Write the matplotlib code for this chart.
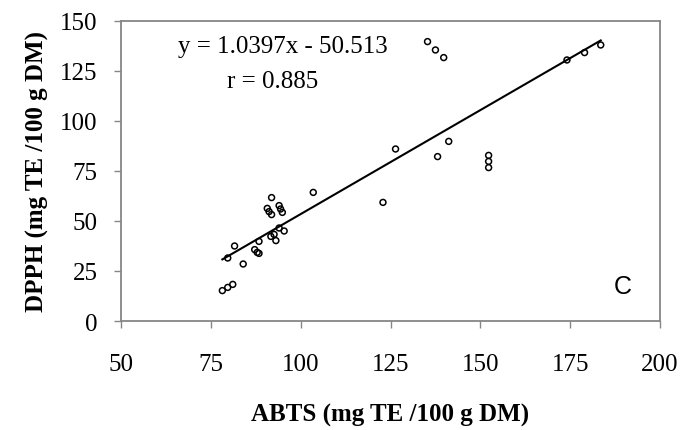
import matplotlib
matplotlib.use("Agg")
import matplotlib.pyplot as plt
import numpy as np

# ABTS vs DPPH, mg TE / 100 g DM
abts = [78.2, 79.7, 81.1, 79.7, 81.6, 84.0, 87.2, 87.9, 88.4, 88.4,
        91.9, 90.7, 91.2, 91.9, 94.0, 94.4, 94.9, 94.0, 95.4, 91.7,
        92.6, 93.1, 103.5, 122.9, 126.4, 138.1, 141.2, 152.3, 152.3, 152.3,
        135.3, 137.5, 139.8, 174.1, 179.0, 183.5]
dpph = [15.2, 16.8, 18.3, 31.5, 37.5, 28.5, 35.7, 34.3, 33.8, 39.8,
        61.7, 56.3, 54.7, 53.2, 57.7, 56.0, 54.3, 46.5, 45.0, 42.3,
        43.3, 40.2, 64.3, 59.3, 86.0, 82.2, 89.8, 82.8, 79.8, 76.7,
        139.7, 135.5, 131.7, 130.5, 134.2, 138.0]
slope, intercept = 1.0397, -50.513
xticks = [50, 75, 100, 125, 150, 175, 200]
yticks = [0, 25, 50, 75, 100, 125, 150]

plt.rcParams["font.family"] = ["Liberation Serif", "DejaVu Serif"]
grey = "#868686"

fig = plt.figure(figsize=(6.81, 4.31), dpi=100)
ax = fig.add_axes([0.1777, 0.2529, 0.7915, 0.6961])

ax.scatter(abts, dpph, s=18, facecolors="none", edgecolors="black", linewidths=1.1, zorder=3)
xl = np.array([min(abts), max(abts)])
ax.plot(xl, slope * xl + intercept, color="black", lw=1.5, zorder=2)

ax.set_xlim(50, 200)
ax.set_ylim(0, 150)
ax.set_xticks(xticks)
ax.set_yticks(yticks)
ax.tick_params(direction="out", length=5, width=1, color=grey, labelsize=18)
ax.tick_params(axis="x", pad=18)
ax.tick_params(axis="y", pad=12)
for sp in ax.spines.values():
    sp.set_color(grey)
    sp.set_linewidth(1.3)

ax.set_xlabel("ABTS (mg TE /100 g DM)", fontsize=18, fontweight="bold", labelpad=20)
ax.set_ylabel("DPPH (mg TE /100 g DM)", fontsize=18, fontweight="bold", labelpad=8)

ax.text(0.30, 0.915, "y = 1.0397x - 50.513", transform=ax.transAxes, fontsize=18,
        ha="center", va="center")
ax.text(0.282, 0.80, "r = 0.885", transform=ax.transAxes, fontsize=18,
        ha="center", va="center")
ax.text(0.93, 0.115, "C", transform=ax.transAxes, fontsize=18, ha="center", va="center",
        family=["Liberation Sans", "DejaVu Sans"])

fig.savefig("out.png", dpi=100)
